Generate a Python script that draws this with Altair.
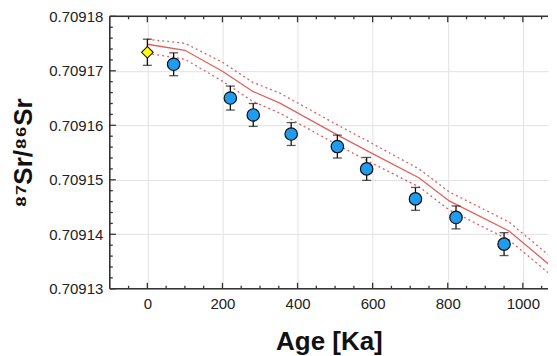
import altair as alt
import pandas as pd

# Measured samples (age in Ka, 87Sr/86Sr)
sample_age = [70, 221, 282, 383, 506, 584, 714, 822, 950]
sample_sr = [0.7091712, 0.7091650, 0.7091619, 0.7091584, 0.7091561,
             0.7091520, 0.7091465, 0.7091431, 0.7091382]
sample_err = [0.0000021, 0.0000022, 0.0000021, 0.0000021, 0.0000021,
              0.0000021, 0.0000021, 0.0000021, 0.0000021]

# Modern seawater value
modern_age = [0]
modern_sr = [0.7091734]
modern_err = [0.0000024]

# Seawater Sr curve with its envelope
curve_age = [0, 100, 200, 280, 353, 512, 592, 724, 804, 963, 1090]
curve_mid = [0.70917487, 0.70917377, 0.70916993, 0.70916626, 0.70916407,
             0.70915802, 0.70915509, 0.70915033, 0.70914612, 0.70914062, 0.70913330]
curve_hi = [0.70917579, 0.70917505, 0.70917158, 0.70916791, 0.70916590,
            0.70915985, 0.70915692, 0.70915198, 0.70914777, 0.70914227, 0.70913495]
curve_lo = [0.70917322, 0.70917212, 0.70916810, 0.70916443, 0.70916223,
            0.70915619, 0.70915326, 0.70914868, 0.70914447, 0.70913897, 0.70913165]

# Axis ticks
x_major = [0, 200, 400, 600, 800, 1000]
x_minor = [-50, 50, 100, 150, 250, 300, 350, 450, 500, 550, 650, 700, 750,
           850, 900, 950, 1050]
y_major = [0.70913, 0.70914, 0.70915, 0.70916, 0.70917, 0.70918]
y_minor = [0.709132, 0.709134, 0.709136, 0.709138,
           0.709142, 0.709144, 0.709146, 0.709148,
           0.709152, 0.709154, 0.709156, 0.709158,
           0.709162, 0.709164, 0.709166, 0.709168,
           0.709172, 0.709174, 0.709176, 0.709178]

X_MIN, X_MAX = -100, 1067
W = 439
H = 273
FONT = "Liberation Sans"
RED = "#e35f5f"
AX = "#333333"

xs = alt.Scale(domain=[X_MIN, X_MAX], nice=False)
ys = alt.Scale(domain=[0.70913, 0.70918], nice=False, zero=False)

samples = pd.DataFrame({"age": sample_age, "sr": sample_sr, "err": sample_err})
samples["lo"] = samples["sr"] - samples["err"]
samples["hi"] = samples["sr"] + samples["err"]
modern = pd.DataFrame({"age": modern_age, "sr": modern_sr, "err": modern_err})
modern["lo"] = modern["sr"] - modern["err"]
modern["hi"] = modern["sr"] + modern["err"]

mid = pd.DataFrame({"age": curve_age, "sr": curve_mid})
env = pd.concat([
    pd.DataFrame({"age": curve_age, "sr": curve_hi, "k": "hi"}),
    pd.DataFrame({"age": curve_age, "sr": curve_lo, "k": "lo"}),
])

X = alt.X("age:Q", scale=xs,
          axis=alt.Axis(title="Age [Ka]", values=x_major, format="d", grid=True))
Y = alt.Y("sr:Q", scale=ys,
          axis=alt.Axis(title="⁸⁷Sr/⁸⁶Sr", values=y_major, format=".5f", grid=True))

base_line = alt.Chart(mid).mark_line(color=RED, strokeWidth=1.3, clip=True).encode(x=X, y=Y)
env_line = alt.Chart(env).mark_line(color=RED, strokeWidth=1.3, strokeDash=[2, 3], clip=True).encode(
    x=alt.X("age:Q", scale=xs), y=alt.Y("sr:Q", scale=ys), detail="k:N")

def errbars(df):
    r = alt.Chart(df).mark_rule(color="#111111", strokeWidth=1.3).encode(
        x=alt.X("age:Q", scale=xs), y=alt.Y("lo:Q", scale=ys), y2="hi:Q")
    t1 = alt.Chart(df).mark_tick(color="#111111", orient="horizontal", size=9, thickness=1.3).encode(
        x=alt.X("age:Q", scale=xs), y=alt.Y("lo:Q", scale=ys))
    t2 = alt.Chart(df).mark_tick(color="#111111", orient="horizontal", size=9, thickness=1.3).encode(
        x=alt.X("age:Q", scale=xs), y=alt.Y("hi:Q", scale=ys))
    return [r, t1, t2]

pts = alt.Chart(samples).mark_point(shape="circle", filled=True, fill="#1f9bef", stroke="#111111",
                                    strokeWidth=1.2, size=155, opacity=1).encode(
    x=alt.X("age:Q", scale=xs), y=alt.Y("sr:Q", scale=ys))
dia = alt.Chart(modern).mark_point(shape="diamond", filled=True, fill="#ffff00", stroke="#111111",
                                   strokeWidth=1.1, size=135, opacity=1).encode(
    x=alt.X("age:Q", scale=xs), y=alt.Y("sr:Q", scale=ys))

def xticks(vals, length):
    df = pd.DataFrame({"age": vals})
    bot = alt.Chart(df).mark_rule(color=AX, strokeWidth=1.3).encode(
        x=alt.X("age:Q", scale=xs), y=alt.value(H), y2=alt.value(H - length))
    top = alt.Chart(df).mark_rule(color=AX, strokeWidth=1.3).encode(
        x=alt.X("age:Q", scale=xs), y=alt.value(0), y2=alt.value(length))
    return [bot, top]

def yticks(vals, length):
    df = pd.DataFrame({"sr": vals})
    left = alt.Chart(df).mark_rule(color=AX, strokeWidth=1.3).encode(
        y=alt.Y("sr:Q", scale=ys), x=alt.value(0), x2=alt.value(length))
    return [left]

# Frame: top, bottom and left edges (the right edge lies beyond the cropped view)
frame_df = pd.DataFrame({"sr": [0.70913]})
frame = [
    alt.Chart(frame_df).mark_rule(color=AX, strokeWidth=1.6).encode(
        x=alt.value(0), x2=alt.value(W), y=alt.value(0)),
    alt.Chart(frame_df).mark_rule(color=AX, strokeWidth=1.6).encode(
        x=alt.value(0), x2=alt.value(W), y=alt.value(H)),
    alt.Chart(frame_df).mark_rule(color=AX, strokeWidth=1.6).encode(
        x=alt.value(0), y=alt.value(0), y2=alt.value(H)),
]

layers = [base_line, env_line] + errbars(samples) + errbars(modern) + [pts, dia] \
    + xticks(x_major, 6) + xticks(x_minor, 3) + yticks(y_major, 6) + yticks(y_minor, 3) + frame

chart = alt.layer(*layers).properties(
    width=W, height=H, padding={"left": 2, "top": 1, "right": 0, "bottom": 0}
).configure_view(
    stroke=None
).configure_axis(
    ticks=False, domain=False, gridColor="#e2e2e2", gridWidth=1,
    labelFont=FONT, labelFontSize=15, labelColor="#222222", labelPadding=7,
    titleFont=FONT, titleFontSize=26, titleFontWeight="bold", titleColor="#111111"
).configure_axisX(
    labelPadding=8, titlePadding=17
).configure_axisY(
    titlePadding=12
)

chart.save("out.html", embed_options={"renderer": "svg", "actions": False})
